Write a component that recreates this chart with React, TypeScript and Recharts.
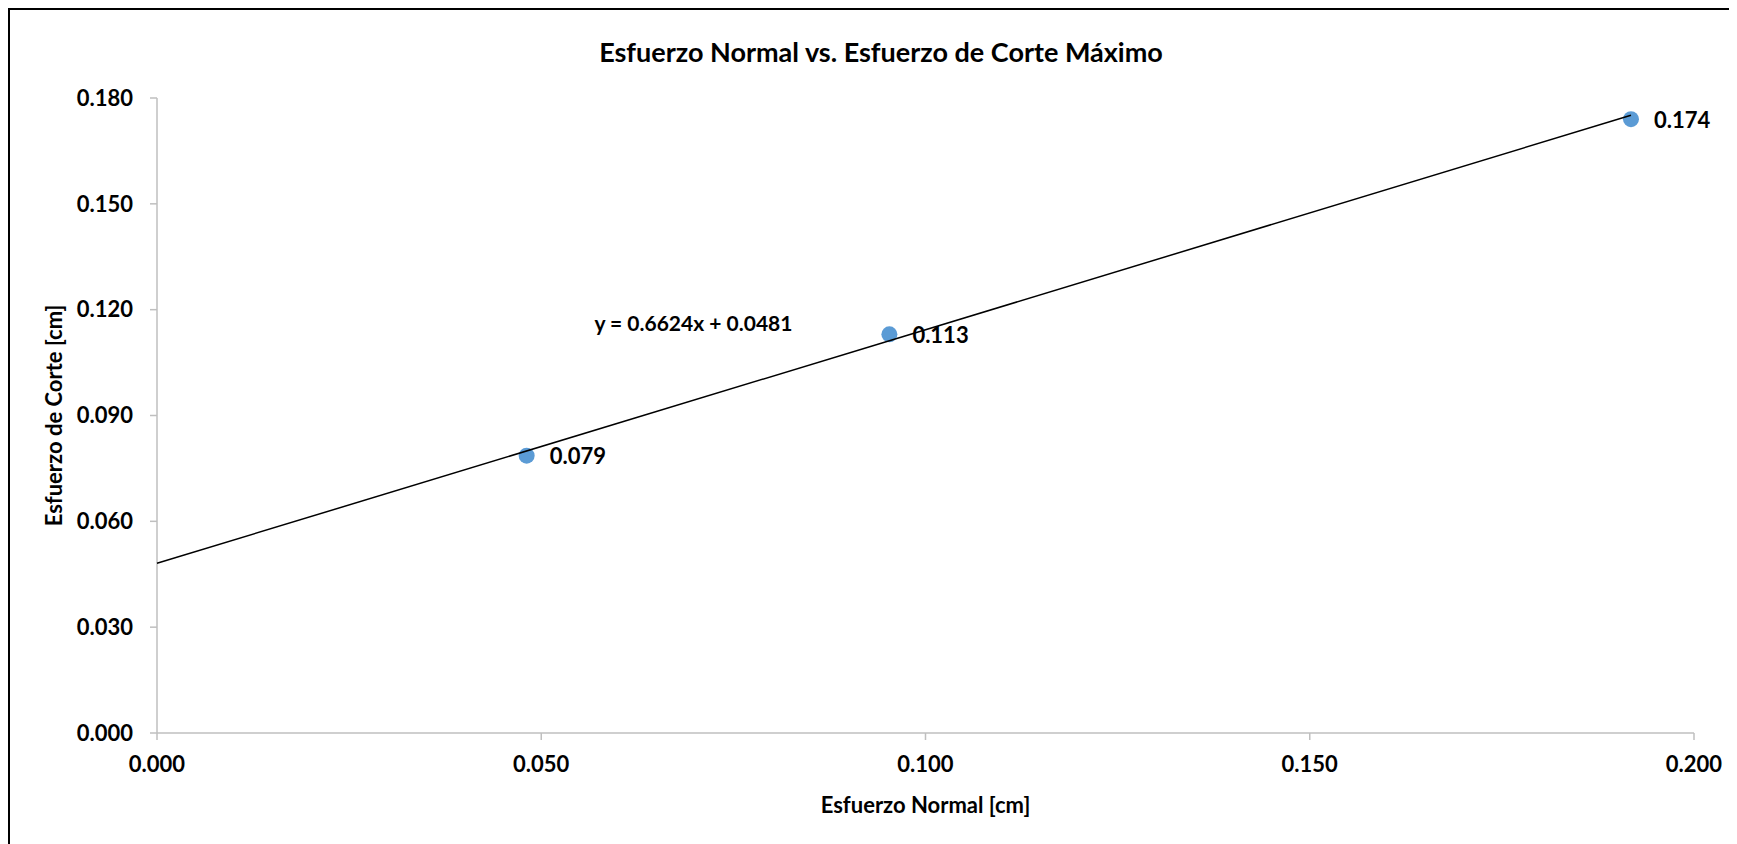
import { ScatterChart, Scatter, XAxis, YAxis, ReferenceDot, LabelList } from "recharts"

// measured points (Esfuerzo Normal, Esfuerzo de Corte)
const normal = [0.0481, 0.0953, 0.1918]
const corte = [0.0786, 0.113, 0.174]

// linear trend line shown in the sheet
const trendX = [0, 0.1918]
const trendY = [0.0481, 0.1751]
const equation = "y = 0.6624x + 0.0481"

const xTicks = [0, 0.05, 0.1, 0.15, 0.2]
const yTicks = [0, 0.03, 0.06, 0.09, 0.12, 0.15, 0.18]

const font = "Lato, 'Open Sans', sans-serif"
const axisGray = "#bfbfbf"

const points = normal.map((x, i) => ({ x, y: corte[i] }))
const trend = trendX.map((x, i) => ({ x, y: trendY[i] }))

const fmt = (v: number) => v.toFixed(3)

export default function App() {
  return (
    <div
      style={{
        position: "relative",
        width: 1729,
        height: 836,
        boxSizing: "border-box",
        borderTop: "2px solid #000",
        borderLeft: "2px solid #000",
        background: "#fff",
        fontFamily: font,
      }}
    >
      <div
        style={{
          position: "absolute",
          left: 0,
          top: 25,
          width: 1742,
          textAlign: "center",
          fontSize: 27,
          fontWeight: 700,
          color: "#000",
        }}
      >
        Esfuerzo Normal vs. Esfuerzo de Corte Máximo
      </div>
      <ScatterChart width={1727} height={834} margin={{ top: 88, right: 43, bottom: 51, left: 47 }}>
        <XAxis
          type="number"
          dataKey="x"
          domain={[0, 0.2]}
          ticks={xTicks}
          tickFormatter={fmt}
          height={60}
          stroke={axisGray}
          strokeWidth={1.5}
          tickSize={7}
          tickMargin={16}
          tick={{ fill: "#000", fontSize: 22, fontWeight: 700, fontFamily: font }}
          label={{
            value: "Esfuerzo Normal [cm]",
            position: "bottom",
            offset: 4,
            fill: "#000",
            fontSize: 22,
            fontWeight: 700,
            fontFamily: font,
          }}
        />
        <YAxis
          type="number"
          dataKey="y"
          domain={[0, 0.18]}
          ticks={yTicks}
          tickFormatter={fmt}
          width={100}
          stroke={axisGray}
          strokeWidth={1.5}
          tickSize={7}
          tickMargin={17}
          tick={{ fill: "#000", fontSize: 22, fontWeight: 700, fontFamily: font }}
          label={{
            value: "Esfuerzo de Corte [cm]",
            angle: -90,
            position: "insideLeft",
            offset: -3,
            fill: "#000",
            fontSize: 22,
            fontWeight: 700,
            fontFamily: font,
            style: { textAnchor: "middle" },
          }}
        />
        <Scatter
          data={points}
          isAnimationActive={false}
          shape={(p: any) => <circle cx={p.cx} cy={p.cy} r={8} fill="#5b9bd5" />}
        >
          <LabelList
            dataKey="y"
            content={(p: any) => (
              <text
                x={p.x + p.width / 2 + 23}
                y={p.y + p.height / 2 + 3}
                dominantBaseline="middle"
                fill="#000"
                fontSize={22}
                fontWeight={700}
                fontFamily={font}
              >
                {fmt(p.value)}
              </text>
            )}
          />
        </Scatter>
        <Scatter
          data={trend}
          isAnimationActive={false}
          line={{ stroke: "#000", strokeWidth: 1.5 }}
          shape={() => <g />}
        />
        <ReferenceDot
          x={0.0698}
          y={0.1162}
          r={0}
          fill="none"
          stroke="none"
          label={{ value: equation, position: "center", fill: "#000", fontSize: 21, fontWeight: 700, fontFamily: font }}
        />
      </ScatterChart>
    </div>
  )
}
